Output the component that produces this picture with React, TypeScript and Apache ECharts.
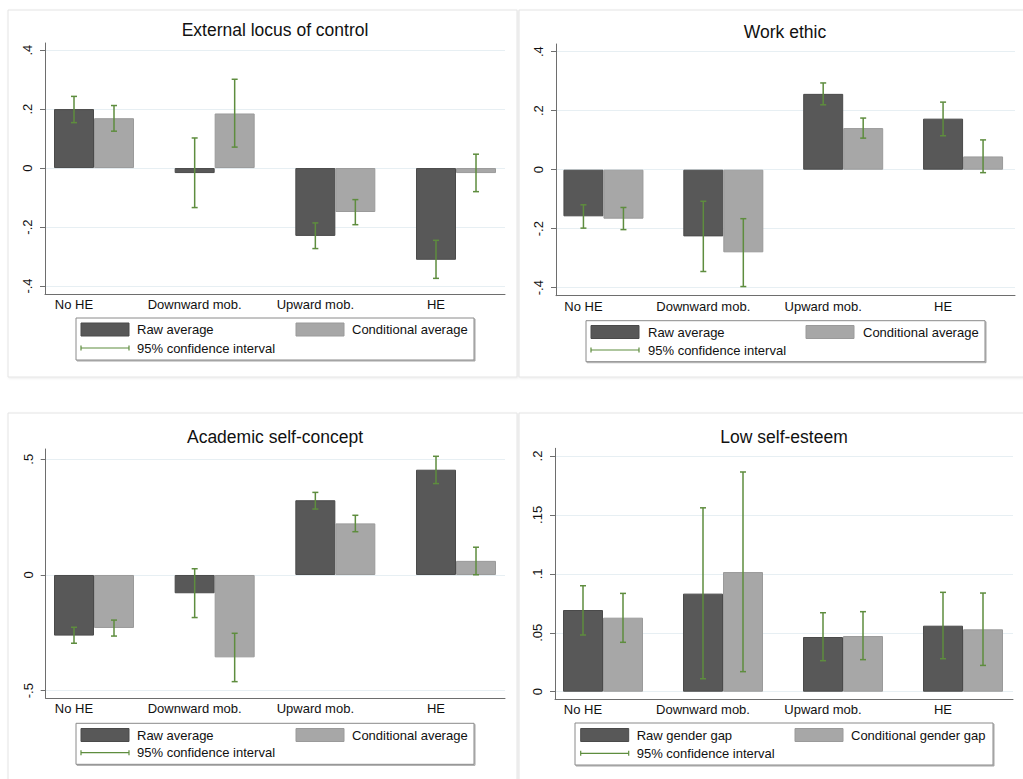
import React, { useEffect, useRef } from "react";
import * as echarts from "echarts";

// ---------- data ----------
const categories = ["No HE", "Downward mob.", "Upward mob.", "HE"];

const titles = ["External locus of control", "Work ethic", "Academic self-concept", "Low self-esteem"];

const avgLegend = ["Raw average", "Conditional average", "95% confidence interval"];
const gapLegend = ["Raw gender gap", "Conditional gender gap", "95% confidence interval"];

const locusTicks = [-0.4, -0.2, 0, 0.2, 0.4];
const workTicks = [-0.4, -0.2, 0, 0.2, 0.4];
const acadTicks = [-0.5, 0, 0.5];
const esteemTicks = [0, 0.05, 0.1, 0.15, 0.2];

const locusRaw = [0.2, -0.017, -0.23, -0.311];
const locusRawLo = [0.154, -0.134, -0.273, -0.374];
const locusRawHi = [0.243, 0.102, -0.186, -0.245];
const locusCond = [0.169, 0.185, -0.149, -0.017];
const locusCondLo = [0.125, 0.071, -0.192, -0.08];
const locusCondHi = [0.212, 0.301, -0.107, 0.047];

const workRaw = [-0.158, -0.226, 0.257, 0.173];
const workRawLo = [-0.198, -0.345, 0.22, 0.115];
const workRawHi = [-0.119, -0.107, 0.294, 0.229];
const workCond = [-0.166, -0.28, 0.141, 0.045];
const workCondLo = [-0.203, -0.396, 0.107, -0.01];
const workCondHi = [-0.128, -0.166, 0.175, 0.101];

const acadRaw = [-0.262, -0.079, 0.323, 0.455];
const acadRawLo = [-0.295, -0.184, 0.285, 0.395];
const acadRawHi = [-0.226, 0.027, 0.357, 0.513];
const acadCond = [-0.229, -0.356, 0.223, 0.061];
const acadCondLo = [-0.264, -0.461, 0.187, 0.001];
const acadCondHi = [-0.195, -0.252, 0.258, 0.12];

const esteemRaw = [0.0693, 0.0832, 0.0464, 0.056];
const esteemRawLo = [0.0481, 0.011, 0.0263, 0.028];
const esteemRawHi = [0.0899, 0.156, 0.067, 0.0843];
const esteemCond = [0.0628, 0.1015, 0.0472, 0.0529];
const esteemCondLo = [0.0419, 0.017, 0.0272, 0.0223];
const esteemCondHi = [0.0834, 0.1864, 0.0679, 0.0837];

// ---------- styling / layout ----------
const FONT = "'Liberation Sans', Arial, sans-serif";
const DARK = "#585858";
const DARK_EDGE = "#4a4a4a";
const LIGHT = "#a7a7a7";
const LIGHT_EDGE = "#9a9a9a";
const CI = "#5e8d3e";
const AXIS = "#6e6e6e";
const GRIDLINE = "#e7eff3";
const BAR_W = 40;

type Panel = {
  title: string;
  ticks: number[];
  yMin: number;
  yMax: number;
  raw: number[]; rawLo: number[]; rawHi: number[];
  cond: number[]; condLo: number[]; condHi: number[];
  legend: string[];
  axisLeft: number; axisRight: number; top: number; bottom: number;
  c0: number; sp: number;
  titleX: number; titleY: number;
  box: [number, number, number, number];
  sw1x: number; t1x: number; sw2x: number; t2x: number; row1y: number; row2y: number;
  border: [number, number, number, number];
};

const panels: Panel[] = [
  {
    title: titles[0], ticks: locusTicks, yMin: -0.427, yMax: 0.424,
    raw: locusRaw, rawLo: locusRawLo, rawHi: locusRawHi,
    cond: locusCond, condLo: locusCondLo, condHi: locusCondHi,
    legend: avgLegend,
    axisLeft: 45, axisRight: 505, top: 43, bottom: 294, c0: 94, sp: 120.67,
    titleX: 275, titleY: 30,
    box: [76, 318, 474, 360], sw1x: 81, t1x: 137, sw2x: 296, t2x: 352, row1y: 329.5, row2y: 348,
    border: [8, 10, 517, 377],
  },
  {
    title: titles[1], ticks: workTicks, yMin: -0.427, yMax: 0.426,
    raw: workRaw, rawLo: workRawLo, rawHi: workRawHi,
    cond: workCond, condLo: workCondLo, condHi: workCondHi,
    legend: avgLegend,
    axisLeft: 556, axisRight: 1015, top: 44, bottom: 295.7, c0: 604, sp: 121,
    titleX: 785, titleY: 32,
    box: [586, 320.7, 985, 361.7], sw1x: 591, t1x: 648, sw2x: 806, t2x: 863, row1y: 332, row2y: 350,
    border: [519, 10, 1030, 377],
  },
  {
    title: titles[2], ticks: acadTicks, yMin: -0.533, yMax: 0.5445,
    raw: acadRaw, rawLo: acadRawLo, rawHi: acadRawHi,
    cond: acadCond, condLo: acadCondLo, condHi: acadCondHi,
    legend: avgLegend,
    axisLeft: 45.7, axisRight: 505, top: 449, bottom: 698.3, c0: 94, sp: 120.67,
    titleX: 275, titleY: 436.7,
    box: [76, 723.3, 474, 764.3], sw1x: 81, t1x: 137, sw2x: 296, t2x: 352, row1y: 735, row2y: 752.7,
    border: [8, 413, 517, 800],
  },
  {
    title: titles[3], ticks: esteemTicks, yMin: -0.0062, yMax: 0.2065,
    raw: esteemRaw, rawLo: esteemRawLo, rawHi: esteemRawHi,
    cond: esteemCond, condLo: esteemCondLo, condHi: esteemCondHi,
    legend: gapLegend,
    axisLeft: 555, axisRight: 1013, top: 448.3, bottom: 699, c0: 603.3, sp: 120.6,
    titleX: 784, titleY: 436.7,
    box: [575, 723, 993, 765], sw1x: 580.7, t1x: 636.7, sw2x: 795, t2x: 851, row1y: 735, row2y: 753.3,
    border: [519, 413, 1030, 800],
  },
];

function fmtTick(v: number): string {
  if (Math.abs(v) < 1e-9) return "0";
  const s = String(+v.toFixed(4));
  return s.replace(/^(-?)0\./, "$1.");
}

function errorBarSeries(gridIdx: number, lo: number[], hi: number[], offset: number) {
  return {
    type: "custom",
    xAxisIndex: gridIdx,
    yAxisIndex: gridIdx,
    z: 5,
    silent: true,
    data: categories.map((_, i) => [i, lo[i], hi[i]]),
    renderItem: (_params: any, api: any) => {
      const i = api.value(0);
      const pLo = api.coord([i, api.value(1)]);
      const pHi = api.coord([i, api.value(2)]);
      const x = pLo[0] + offset;
      const cap = 3;
      const st = { stroke: CI, lineWidth: 1.5 };
      return {
        type: "group",
        children: [
          { type: "line", shape: { x1: x, y1: pLo[1], x2: x, y2: pHi[1] }, style: st },
          { type: "line", shape: { x1: x - cap, y1: pLo[1], x2: x + cap, y2: pLo[1] }, style: st },
          { type: "line", shape: { x1: x - cap, y1: pHi[1], x2: x + cap, y2: pHi[1] }, style: st },
        ],
      };
    },
  };
}

function buildOption() {
  const grid: any[] = [];
  const xAxis: any[] = [];
  const yAxis: any[] = [];
  const series: any[] = [];
  const graphic: any[] = [];

  panels.forEach((p, k) => {
    const h = p.bottom - p.top;
    // axis grid (index 2k): frame, y ticks, grid lines
    grid.push({ left: p.axisLeft, top: p.top, width: p.axisRight - p.axisLeft, height: h, containLabel: false });
    // bar grid (index 2k+1)
    grid.push({ left: p.c0 - p.sp / 2, top: p.top, width: p.sp * 4, height: h, containLabel: false });

    xAxis.push({
      type: "value", gridIndex: 2 * k, min: 0, max: 1, position: "bottom",
      axisLine: { show: true, onZero: false, lineStyle: { color: AXIS, width: 1 } },
      axisTick: { show: false }, axisLabel: { show: false }, splitLine: { show: false },
    });
    yAxis.push({
      type: "value", gridIndex: 2 * k, min: p.yMin, max: p.yMax, position: "left",
      axisLine: { show: true, onZero: false, lineStyle: { color: AXIS, width: 1 } },
      axisTick: { show: true, length: 5, customValues: p.ticks, lineStyle: { color: AXIS } },
      axisLabel: {
        show: true, customValues: p.ticks, rotate: 90, margin: 11,
        formatter: (v: number) => fmtTick(v),
        color: "#111", fontSize: 13, fontFamily: FONT,
      },
      splitLine: { show: true, lineStyle: { color: GRIDLINE, width: 1 } },
    });

    xAxis.push({
      type: "category", gridIndex: 2 * k + 1, data: categories, boundaryGap: true,
      axisLine: { show: false }, axisTick: { show: false }, splitLine: { show: false },
      axisLabel: {
        show: true, interval: 0, margin: 4, color: "#111", fontSize: 13, fontFamily: FONT,
        padding: [0, BAR_W, 0, 0],
      },
    });
    yAxis.push({
      type: "value", gridIndex: 2 * k + 1, min: p.yMin, max: p.yMax, show: false,
      splitLine: { show: false },
    });

    series.push({
      type: "bar", xAxisIndex: 2 * k + 1, yAxisIndex: 2 * k + 1, name: p.legend[0],
      data: p.raw, barWidth: BAR_W, barGap: "0%", z: 2,
      itemStyle: { color: DARK, borderColor: DARK_EDGE, borderWidth: 1 },
    });
    series.push({
      type: "bar", xAxisIndex: 2 * k + 1, yAxisIndex: 2 * k + 1, name: p.legend[1],
      data: p.cond, barWidth: BAR_W, barGap: "0%", z: 2,
      itemStyle: { color: LIGHT, borderColor: LIGHT_EDGE, borderWidth: 1 },
    });
    series.push(errorBarSeries(2 * k + 1, p.rawLo, p.rawHi, -BAR_W / 2));
    series.push(errorBarSeries(2 * k + 1, p.condLo, p.condHi, BAR_W / 2));

    // panel border
    const [bx0, by0, bx1, by1] = p.border;
    graphic.push({
      type: "rect", z: -10, silent: true,
      shape: { x: bx0, y: by0, width: bx1 - bx0, height: by1 - by0 },
      style: { fill: "#fff", stroke: "#e4e4e4", lineWidth: 1, shadowBlur: 2, shadowColor: "rgba(0,0,0,0.08)", shadowOffsetX: 1, shadowOffsetY: 1 },
    });
    // title
    graphic.push({
      type: "text", x: p.titleX, y: p.titleY, z: 10,
      style: { text: p.title, fontSize: 17.5, fontFamily: FONT, fill: "#111", align: "center", verticalAlign: "middle" },
    });
    // legend
    const [lx0, ly0, lx1, ly1] = p.box;
    graphic.push({
      type: "rect", z: 10,
      shape: { x: lx0, y: ly0, width: lx1 - lx0, height: ly1 - ly0 },
      style: { fill: "#fff", stroke: "#8a8a8a", lineWidth: 1, shadowBlur: 1, shadowColor: "rgba(0,0,0,0.35)", shadowOffsetX: 1, shadowOffsetY: 1 },
    });
    const swW = 48, swH = 13;
    graphic.push({
      type: "rect", z: 11,
      shape: { x: p.sw1x, y: p.row1y - swH / 2, width: swW, height: swH },
      style: { fill: DARK, stroke: DARK_EDGE, lineWidth: 1 },
    });
    graphic.push({
      type: "rect", z: 11,
      shape: { x: p.sw2x, y: p.row1y - swH / 2, width: swW, height: swH },
      style: { fill: LIGHT, stroke: LIGHT_EDGE, lineWidth: 1 },
    });
    const lst = { stroke: CI, lineWidth: 1.2 };
    graphic.push({ type: "line", z: 11, shape: { x1: p.sw1x, y1: p.row2y, x2: p.sw1x + swW, y2: p.row2y }, style: lst });
    graphic.push({ type: "line", z: 11, shape: { x1: p.sw1x, y1: p.row2y - 2.5, x2: p.sw1x, y2: p.row2y + 2.5 }, style: lst });
    graphic.push({ type: "line", z: 11, shape: { x1: p.sw1x + swW, y1: p.row2y - 2.5, x2: p.sw1x + swW, y2: p.row2y + 2.5 }, style: lst });
    const tst = { fontSize: 13, fontFamily: FONT, fill: "#111", align: "left", verticalAlign: "middle" };
    graphic.push({ type: "text", z: 11, x: p.t1x, y: p.row1y, style: { ...tst, text: p.legend[0] } });
    graphic.push({ type: "text", z: 11, x: p.t2x, y: p.row1y, style: { ...tst, text: p.legend[1] } });
    graphic.push({ type: "text", z: 11, x: p.t1x, y: p.row2y, style: { ...tst, text: p.legend[2] } });
  });

  return {
    animation: false,
    backgroundColor: "#ffffff",
    textStyle: { fontFamily: FONT },
    grid, xAxis, yAxis, series, graphic,
  };
}

export default function App() {
  const ref = useRef<HTMLDivElement>(null);
  useEffect(() => {
    document.body.style.margin = "0";
    if (!ref.current) return;
    const chart = echarts.init(ref.current, undefined, { renderer: "svg" });
    chart.setOption(buildOption() as any);
    return () => chart.dispose();
  }, []);
  return <div ref={ref} style={{ width: 1023, height: 779, background: "#fff" }} />;
}
